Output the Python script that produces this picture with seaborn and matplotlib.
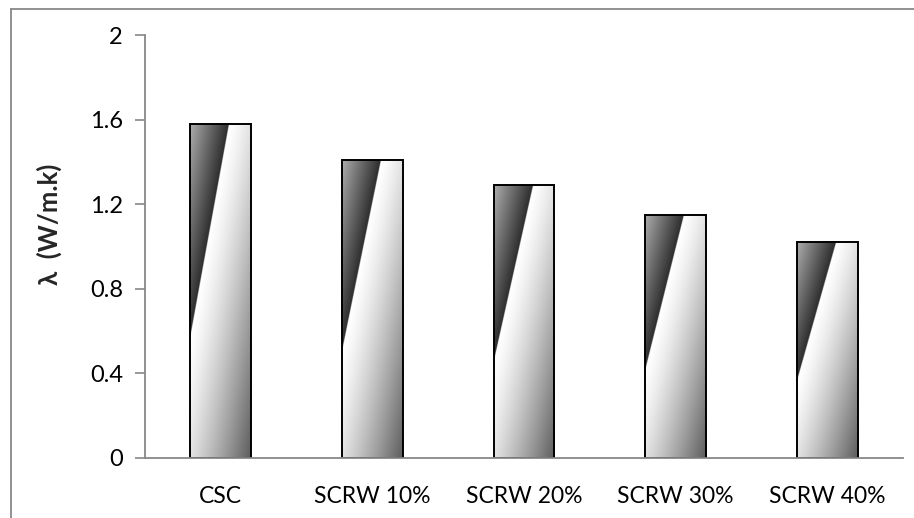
import numpy as np
import matplotlib
matplotlib.use("Agg")
import matplotlib.pyplot as plt
from matplotlib.lines import Line2D
import seaborn as sns

categories = ["CSC", "SCRW 10%", "SCRW 20%", "SCRW 30%", "SCRW 40%"]
conductivity = [1.58, 1.41, 1.29, 1.15, 1.02]
y_ticks = [0, 0.4, 0.8, 1.2, 1.6, 2]
y_tick_labels = ["0", "0.4", "0.8", "1.2", "1.6", "2"]

sns.set_theme(style="white")
plt.rcParams["font.family"] = ["Lato", "DejaVu Sans"]

W, H = 914, 518
fig = plt.figure(figsize=(W / 100, H / 100), dpi=100)
ax = fig.add_axes([145 / W, 1 - 458 / H, (903 - 145) / W, (458 - 35) / H])

sns.barplot(x=categories, y=conductivity, width=0.4, ax=ax,
            color="white", edgecolor="black", linewidth=1.4, saturation=1)


def bar_shading(n=400):
    # diagonal two-band metallic shading in bar-relative coordinates
    u = np.linspace(0, 1, n)[None, :]      # left -> right
    v = np.linspace(0, 1, n)[:, None]      # top -> bottom
    s = u + v
    cut = 0.64
    g = np.where(
        s < cut,
        0.68 - (0.68 - 0.18) * (s / cut),
        1.00 - (1.00 - 0.36) * ((s - cut) / (2 - cut)) ** 1.3,
    )
    return np.clip(g, 0, 1)


shade = bar_shading()
for bar in ax.patches:
    x0, y0 = bar.get_x(), bar.get_y()
    w, h = bar.get_width(), bar.get_height()
    im = ax.imshow(shade, cmap="gray", vmin=0, vmax=1, origin="upper",
                   extent=[x0, x0 + w, y0, y0 + h], aspect="auto",
                   interpolation="bilinear", zorder=1)
    im.set_clip_path(bar)
    bar.set_facecolor("none")
    bar.set_zorder(2)

ax.set_xlim(-0.5, len(categories) - 0.5)
ax.set_ylim(0, 2)
ax.set_yticks(y_ticks)
ax.set_yticklabels(y_tick_labels)
ax.tick_params(axis="y", which="both", left=True, length=7, width=1.2,
               color="#888888", labelsize=17, pad=9, labelcolor="black")
ax.tick_params(axis="x", bottom=False, labelsize=16.5, pad=14, labelcolor="black")

for side in ("top", "right"):
    ax.spines[side].set_visible(False)
for side in ("left", "bottom"):
    ax.spines[side].set_color("#888888")
    ax.spines[side].set_linewidth(1.3)

ax.set_ylabel("λ  (W/m.k)", fontsize=18.5, fontweight="bold")
ax.yaxis.set_label_coords(-0.11, 0.553)

# chart-area frame
fig.add_artist(Line2D([10.5 / W, 10.5 / W], [0, 1 - 9 / H], transform=fig.transFigure,
                      color="#888888", linewidth=1.3))
fig.add_artist(Line2D([10.5 / W, 1], [1 - 9 / H, 1 - 9 / H], transform=fig.transFigure,
                      color="#888888", linewidth=1.3))

fig.savefig("out.png", dpi=100)
